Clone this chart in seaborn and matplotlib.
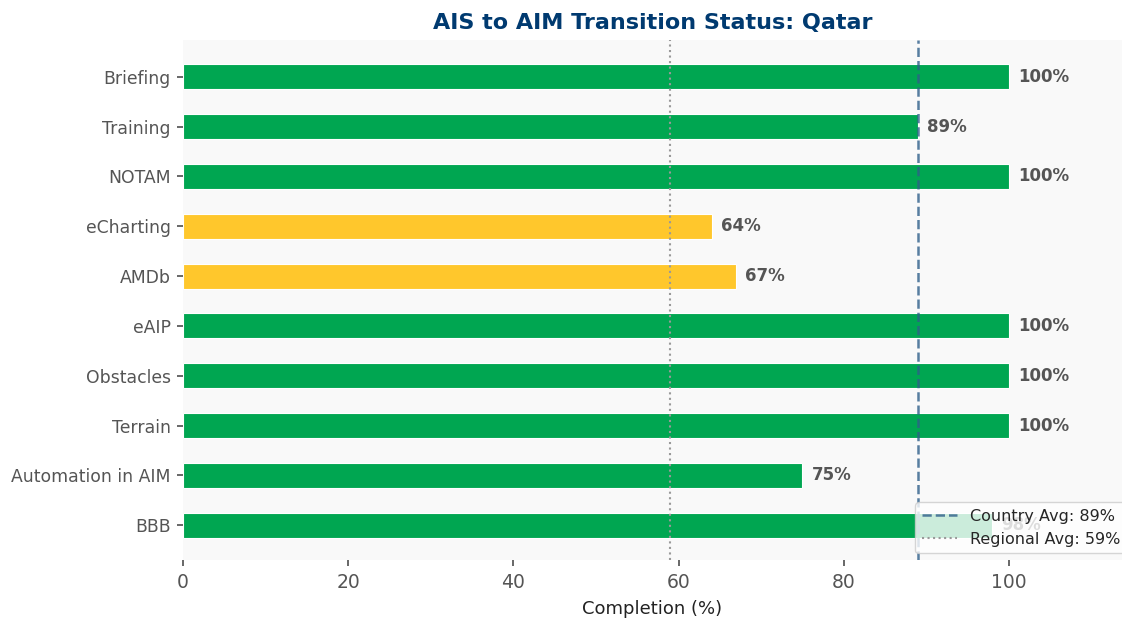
import matplotlib
matplotlib.use("Agg")
import matplotlib.pyplot as plt
import seaborn as sns
import pandas as pd

categories = ["Briefing", "Training", "NOTAM", "eCharting", "AMDb", "eAIP",
              "Obstacles", "Terrain", "Automation in AIM", "BBB"]
values = [100, 89, 100, 64, 67, 100, 100, 100, 75, 98]
country_avg = 89
regional_avg = 59

GREEN = "#00a651"
YELLOW = "#ffc72c"
colors = [GREEN if v >= 70 else YELLOW for v in values]

df = pd.DataFrame({"cat": categories, "val": values})

sns.set_theme(style="white")
plt.rcParams['font.family'] = ['DejaVu Sans']

fig = plt.figure(figsize=(11.22, 6.24), dpi=100)
ax = fig.add_axes([183 / 1122, 64 / 624, 939 / 1122, 520 / 624])
ax.set_facecolor("#f9f9f9")

sns.barplot(data=df, y="cat", x="val", hue="cat", palette=colors, legend=False,
            orient="h", width=0.5, ax=ax, saturation=1,
            edgecolor="white", linewidth=0.8)

for i, v in enumerate(values):
    ax.text(v + 1.1, i, f"{v}%", va="center", ha="left", fontsize=12,
            fontweight="bold", color="#555555")

ax.axvline(country_avg, color="#2f5f8a", linestyle="--", linewidth=1.8, alpha=0.8,
           label=f"Country Avg: {country_avg}%")
ax.axvline(regional_avg, color="#999999", linestyle=":", linewidth=1.5,
           label=f"Regional Avg: {regional_avg}%")

ax.set_xlim(0, 113.7)
ax.set_ylim(len(categories) - 0.3, -0.74)
ax.set_xlabel("Completion (%)", fontsize=13, color="#222222", labelpad=6)
ax.set_ylabel("")
ax.set_title("AIS to AIM Transition Status: Qatar", fontsize=16,
             fontweight="bold", color="#003a70", pad=8)

for s in ax.spines.values():
    s.set_visible(False)
ax.tick_params(axis="y", labelsize=12.4, colors="#555555", length=4, left=True, pad=5)
ax.tick_params(axis="x", labelsize=13.5, colors="#555555", length=4, bottom=True, pad=5)

leg = ax.legend(loc="lower left", bbox_to_anchor=(0.78, 0.013), borderaxespad=0,
                fontsize=11.5, frameon=True, framealpha=0.8, handlelength=2.2)

fig.savefig("out.png", dpi=100)
